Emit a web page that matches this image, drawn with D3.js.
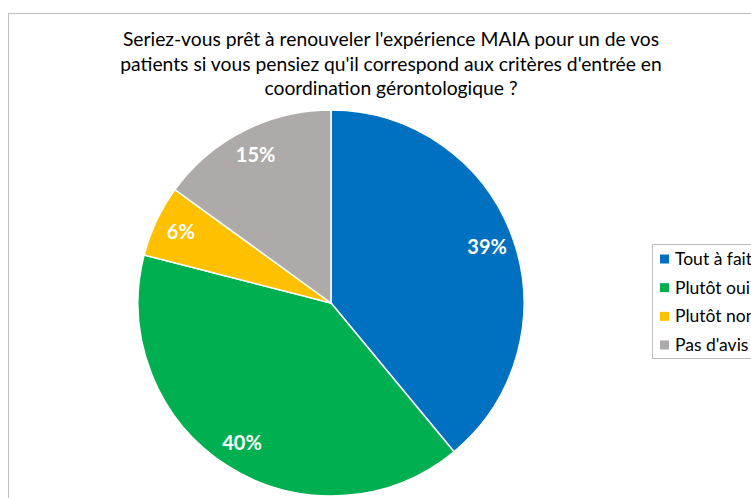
<!DOCTYPE html>
<html>
<head>
<meta charset="utf-8">
<script src="https://cdn.jsdelivr.net/npm/d3@7"></script>
<style>
	body { margin: 0; background: #fff; }
	svg { display: block; font-family: Lato, 'Open Sans', sans-serif; }
</style>
</head>
<body>
<div id="chart"></div>
<script>
const categories = ['Tout à fait', 'Plutôt oui', 'Plutôt non', "Pas d'avis"]
const values = [39, 40, 6, 15]
const colors = ['#0070C0', '#00B050', '#FFC000', '#AEAAAA']
const titleLines = [
	"Seriez-vous prêt à renouveler l'expérience MAIA pour un de vos",
	"patients si vous pensiez qu'il correspond aux critères d'entrée en",
	'coordination gérontologique ?'
]

const width = 751
const height = 498

const svg = d3.select('#chart').append('svg')
	.attr('width', width)
	.attr('height', height)

// chart area border (runs off the page on the right and bottom)
svg.append('rect')
	.attr('x', 8.5)
	.attr('y', 13.5)
	.attr('width', 800)
	.attr('height', 600)
	.attr('fill', '#fff')
	.attr('stroke', '#bfbfbf')

svg.append('g')
	.selectAll('text')
	.data(titleLines)
	.join('text')
	.attr('x', 391)
	.attr('y', (d, i) => 46 + i * 24.5)
	.attr('text-anchor', 'middle')
	.attr('font-size', 19.3)
	.attr('fill', '#000')
	.text(d => d)

const cx = 331
const cy = 303
const radius = 193

const pie = d3.pie().sort(null).value(d => d)
const arcs = pie(values)
const arc = d3.arc().innerRadius(0).outerRadius(radius)
const labelArc = d3.arc().innerRadius(radius * 0.86).outerRadius(radius * 0.86)

const g = svg.append('g').attr('transform', `translate(${cx},${cy})`)

g.selectAll('path')
	.data(arcs)
	.join('path')
	.attr('d', arc)
	.attr('fill', (d, i) => colors[i])
	.attr('stroke', '#fff')
	.attr('stroke-width', 1.5)

g.selectAll('text')
	.data(arcs)
	.join('text')
	.attr('transform', d => `translate(${labelArc.centroid(d)})`)
	.attr('text-anchor', 'middle')
	.attr('dy', '0.35em')
	.attr('font-size', 20)
	.attr('font-weight', 'bold')
	.attr('fill', '#fff')
	.text(d => d.data + '%')

// legend
const legend = svg.append('g')
legend.append('rect')
	.attr('x', 652.5)
	.attr('y', 244.5)
	.attr('width', 120)
	.attr('height', 114)
	.attr('fill', '#fff')
	.attr('stroke', '#bfbfbf')

const rowY = d3.scaleLinear().domain([0, 3]).range([259, 345])

const items = legend.selectAll('g.item')
	.data(categories)
	.join('g')
	.attr('class', 'item')
	.attr('transform', (d, i) => `translate(660, ${rowY(i)})`)

items.append('rect')
	.attr('x', 0)
	.attr('y', -4.5)
	.attr('width', 9)
	.attr('height', 9)
	.attr('fill', (d, i) => colors[i])

items.append('text')
	.attr('x', 15)
	.attr('dy', '0.35em')
	.attr('font-size', 17.5)
	.attr('fill', '#000')
	.text(d => d)
</script>
</body>
</html>
